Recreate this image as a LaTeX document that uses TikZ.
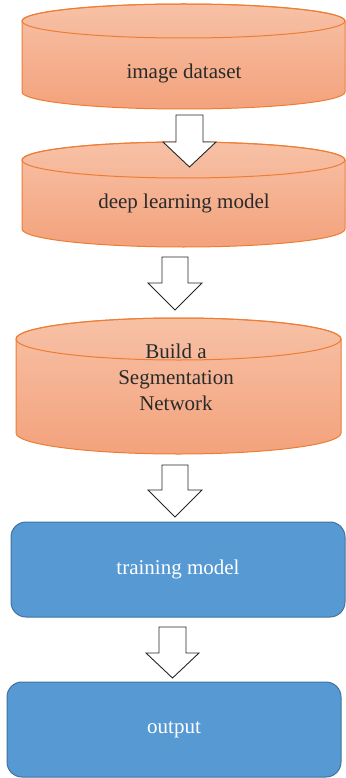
\documentclass[tikz,border=0pt]{standalone}
\usepackage{fontspec}
\setmainfont{Liberation Serif}
\definecolor{drumtop}{HTML}{F7C1A6}
\definecolor{drumbot}{HTML}{F3A27C}
\definecolor{drumline}{HTML}{EE7D33}
\definecolor{boxfill}{HTML}{5699D3}
\definecolor{boxline}{HTML}{4272A0}
\definecolor{ink}{HTML}{2A2A2A}
% drum (vertical cylinder): centre x, top-ellipse y, bottom-ellipse y, x radius, y radius
\newcommand\drumshape[5]{%
  \path[top color=drumtop,bottom color=drumbot,draw=drumline,line width=1pt]
    ({#1-#4},#2) -- ({#1-#4},#3)
    arc[start angle=180,end angle=0,x radius=#4,y radius=#5]
    -- ({#1+#4},#2)
    arc[start angle=0,end angle=-180,x radius=#4,y radius=#5] -- cycle;
  \draw[drumline,line width=1pt] (#1,#2) ellipse[x radius=#4,y radius=#5];}
% hollow block arrow: centre x, top y, neck y, tip y, shaft half width, head half width
\newcommand\blockarrow[6]{%
  \draw[fill=white,draw=black!85,line width=0.9pt,line join=miter]
    ({#1-#5},#2) -- ({#1+#5},#2) -- ({#1+#5},#3) -- ({#1+#6},#3)
    -- (#1,#4) -- ({#1-#6},#3) -- ({#1-#5},#3) -- cycle;}
\begin{document}
\begin{tikzpicture}[x=1pt,y=-1pt,
  drumtext/.style={text=ink,font=\fontsize{21}{26}\selectfont,align=center,inner sep=0pt},
  bluebox/.style={draw=boxline,fill=boxfill,line width=1pt,rounded corners=15pt,
    minimum width=334pt,minimum height=95pt,text=white,
    font=\fontsize{21}{26}\selectfont}]
\useasboundingbox (0,0) rectangle (345,778);

% data stores
\drumshape{183.5}{21}{92}{161.5}{17}
\node[drumtext] (dataset) at (184,73) {image dataset};

\drumshape{183.5}{160}{229}{161.5}{18}
\node[drumtext] (dlmodel) at (184,203) {deep learning model};

\blockarrow{189.5}{115}{142}{167}{13.5}{26.5}

\drumshape{178.5}{339}{433}{162.5}{21}
\node[drumtext] (segnet) at (176,377) {Build a\\Segmentation\\Network};

\blockarrow{175}{257}{283}{310}{13}{27}
\blockarrow{175}{465}{490}{517}{13}{27}

% process boxes
\node[bluebox] (train) at (178,569.5) {training model};
\blockarrow{172.5}{627}{653}{678}{13.5}{26.5}
\node[bluebox] (output) at (174,729.5) {output};
\end{tikzpicture}
\end{document}
